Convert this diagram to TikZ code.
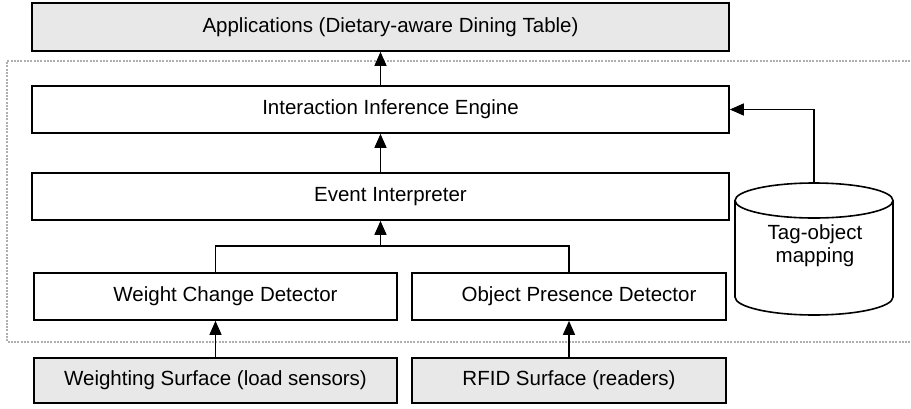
\documentclass[tikz,border=0pt]{standalone}
\usepackage{fontspec}
\setmainfont{Liberation Sans}
\usetikzlibrary{arrows.meta}
\definecolor{boxgray}{RGB}{232,232,232}
\definecolor{framegray}{RGB}{175,175,175}
\newcommand{\padl}[1]{\hspace*{20pt}#1}
\begin{document}
\begin{tikzpicture}[x=1pt,y=-1pt,
  font=\fontsize{20.5}{23}\selectfont,
  box/.style={draw, line width=1.7pt, inner sep=0pt, fill=white},
  graybox/.style={box, fill=boxgray},
  conn/.style={line width=1.4pt},
  arr/.style={conn, -{Triangle[length=14pt,width=12pt]}},
  frame/.style={draw=framegray, line width=1.5pt, dash pattern=on 2pt off 1.3pt}]
\clip (0,0) rectangle (911,408);
\useasboundingbox (0,0) rectangle (911,408);
% dotted frame
\draw[frame] (920,61) -- (7,61) -- (7,342) -- (920,342);
% boxes
\node[graybox, minimum width=697pt, minimum height=48pt] (app) at (380.5,27) {\padl{Applications (Dietary-aware Dining Table)}};
\node[box, minimum width=697pt, minimum height=47pt] (iie) at (380.5,109.5) {\padl{Interaction Inference Engine}};
\node[box, minimum width=697pt, minimum height=47pt] (ei) at (380.5,196.5) {\padl{Event Interpreter}};
\node[box, minimum width=363pt, minimum height=47pt] (wcd) at (215.5,296.5) {\padl{Weight Change Detector}};
\node[box, minimum width=314pt, minimum height=47pt] (opd) at (569,296.5) {\padl{Object Presence Detector}};
\node[graybox, minimum width=363pt, minimum height=45pt] (ws) at (215.5,380.5) {Weighting Surface (load sensors)};
\node[graybox, minimum width=314pt, minimum height=45pt] (rfid) at (569,380.5) {RFID Surface (readers)};
% cylinder
\draw[line width=1.6pt, fill=white] (735,200.5) -- (735,297) arc[start angle=180, end angle=0, x radius=79, y radius=18] -- (893,200.5);
\draw[line width=1.6pt, fill=white] (814,200.5) ellipse[x radius=79, y radius=17.5];
\coordinate (cyltop) at (814,183);
\node[align=center, inner sep=0pt] (tom) at (815,246) {Tag-object\\mapping};
% connectors
\draw[arr] (iie.north) -- (app.south);
\draw[arr] (ei.north) -- (iie.south);
\coordinate (merge) at (380.5,247);
\draw[conn] (wcd.north) -- ++(0,-26) -| (opd.north);
\draw[arr] (merge) -- (ei.south);
\draw[arr] (ws.north) -- (wcd.south);
\draw[arr] (rfid.north) -- (opd.south);
\draw[arr] (cyltop) |- (iie.east);
\end{tikzpicture}
\end{document}
